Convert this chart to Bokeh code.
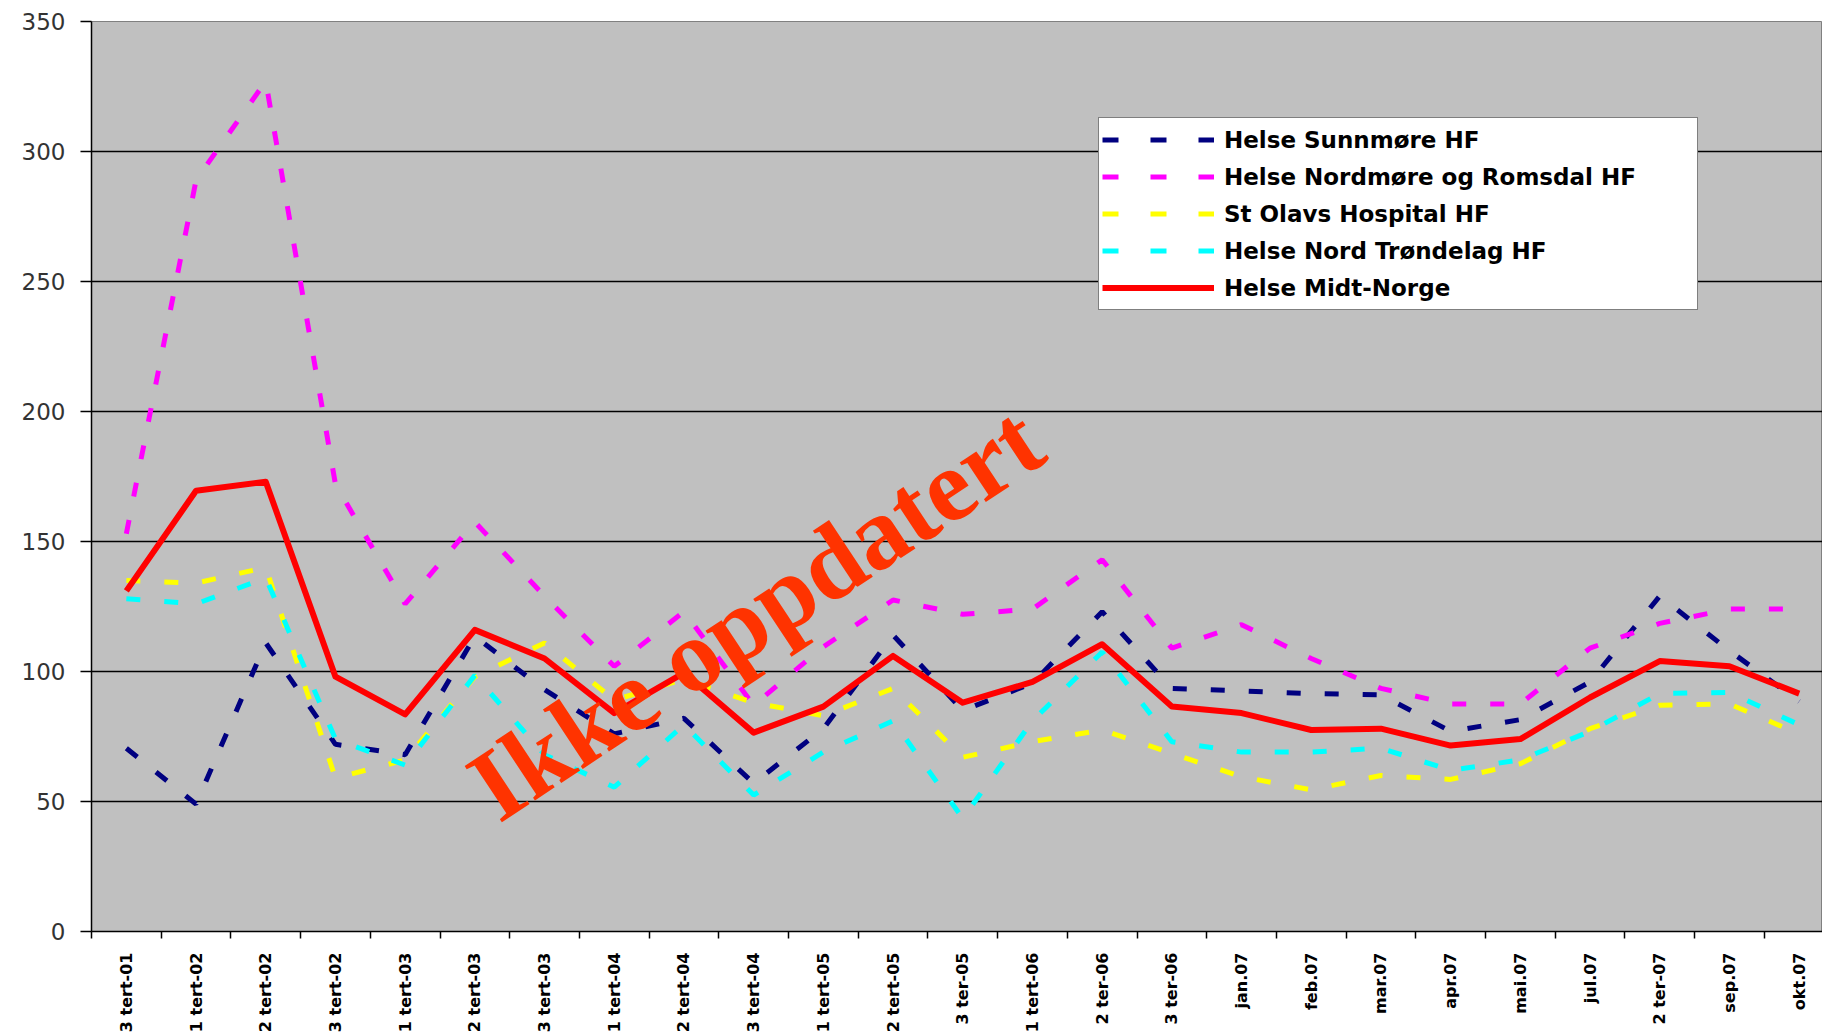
import math
from bokeh.plotting import figure
from bokeh.models import Range1d, FixedTicker, Legend, LegendItem, Label
from bokeh.embed import file_html
from bokeh.resources import INLINE

periods = ["3 tert-01", "1 tert-02", "2 tert-02", "3 tert-02", "1 tert-03", "2 tert-03",
           "3 tert-03", "1 tert-04", "2 tert-04", "3 tert-04", "1 tert-05", "2 tert-05",
           "3 ter-05", "1 tert-06", "2 ter-06", "3 ter-06", "jan.07", "feb.07", "mar.07",
           "apr.07", "mai.07", "jul.07", "2 ter-07", "sep.07", "okt.07"]

sunnmore = [70.5, 49, 111, 72, 68, 113.5, 93, 76, 82, 57, 78, 114, 85, 95.5, 123,
            93.5, 92.5, 91.5, 91, 77, 81.5, 96, 129, 108, 88.5]
nordmore_romsdal = [153, 289, 327, 172, 126, 157.5, 129, 102, 123, 87, 109.5, 127.5, 122,
                    124, 143, 109, 118, 105, 93.5, 87.5, 87.5, 109, 118.5, 124, 124]
st_olavs = [135, 134, 140, 59, 66, 98, 111, 89, 97, 88, 83, 93.5, 67, 73, 77.5, 68.5,
            59.5, 54.5, 60, 58.5, 64.5, 78, 87, 87.5, 76]
nord_trondelag = [128, 126, 136, 74, 64, 98.5, 68, 55.5, 79.5, 52.5, 69, 81, 43.5, 81,
                  107.5, 73, 69, 69, 70.5, 62, 66, 77, 91.5, 92, 79.5]
midt_norge = [131, 169.5, 173, 98, 83.5, 116, 105, 84, 99.5, 76.5, 86.5, 106, 88, 96,
              110.5, 86.5, 84, 77.5, 78, 71.5, 74, 90, 104, 102, 91.5]

y_ticks = [0, 50, 100, 150, 200, 250, 300, 350]

series = [
    ("Helse Sunnmøre HF", sunnmore, "#000080"),
    ("Helse Nordmøre og Romsdal HF", nordmore_romsdal, "#FF00FF"),
    ("St Olavs Hospital HF", st_olavs, "#FFFF00"),
    ("Helse Nord Trøndelag HF", nord_trondelag, "#00FFFF"),
]

xs = list(range(len(periods)))

p = figure(width=1822, height=1035, output_backend="svg", toolbar_location=None,
           x_range=Range1d(-0.5, 24.335), y_range=Range1d(0, 350),
           min_border_left=91, min_border_right=0, min_border_top=21, min_border_bottom=103)
p.background_fill_color = "#C0C0C0"
p.border_fill_color = "white"
p.outline_line_color = "#808080"
p.outline_line_width = 1

p.xgrid.visible = False
p.ygrid.grid_line_color = "black"
p.ygrid.grid_line_width = 1.5

# y axis
p.yaxis.ticker = FixedTicker(ticks=y_ticks)
p.yaxis.axis_line_color = "black"
p.yaxis.axis_line_width = 1.5
p.yaxis.major_tick_out = 11
p.yaxis.major_tick_in = 0
p.yaxis.major_tick_line_color = "black"
p.yaxis.major_tick_line_width = 1.5
p.yaxis.minor_tick_line_color = None
p.yaxis.major_label_standoff = 15
p.yaxis.major_label_text_font = "DejaVu Sans"
p.yaxis.major_label_text_font_size = "23px"
p.yaxis.major_label_text_color = "#333333"

# x axis
p.xaxis.ticker = FixedTicker(ticks=xs, minor_ticks=[i - 0.5 for i in range(len(periods) + 1)])
p.xaxis.major_label_overrides = {i: lab for i, lab in enumerate(periods)}
p.xaxis.axis_line_color = "black"
p.xaxis.axis_line_width = 1.5
p.xaxis.major_tick_out = 0
p.xaxis.major_tick_in = 0
p.xaxis.minor_tick_out = 7
p.xaxis.minor_tick_in = 0
p.xaxis.minor_tick_line_color = "black"
p.xaxis.minor_tick_line_width = 1.5
p.xaxis.major_label_orientation = math.pi / 2
p.xaxis.major_label_standoff = 14
p.xaxis.major_label_text_font = "DejaVu Sans"
p.xaxis.major_label_text_font_style = "bold"
p.xaxis.major_label_text_font_size = "16px"
p.xaxis.major_label_text_color = "black"

items = []
for name, vals, color in series:
    p.line(xs, vals, line_color=color, line_width=5, line_dash="14 24")
    # legend-only swatch (no visible data in the plot)
    swatch = p.line([0], [float("nan")], line_color=color, line_width=5, line_dash="16 32")
    items.append(LegendItem(label=name, renderers=[swatch]))
red = p.line(xs, midt_norge, line_color="#FF0000", line_width=6, line_join="round")
items.append(LegendItem(label="Helse Midt-Norge", renderers=[red]))

legend = Legend(items=items, location=(1007, 621), glyph_width=112, glyph_height=37,
                label_height=37, label_width=470, label_standoff=10, spacing=0,
                padding=3, margin=0, border_line_color="black", border_line_width=1.5,
                background_fill_color="white", background_fill_alpha=1,
                label_text_font="DejaVu Sans", label_text_font_style="bold",
                label_text_font_size="23px", label_text_color="black")
p.add_layout(legend)

watermark = Label(x=5.07, y=52.5, text="Ikke oppdatert", angle=math.radians(33.5),
                  text_font="Liberation Serif", text_font_style="bold",
                  text_font_size="103px", text_color="#FF3300",
                  text_align="left", text_baseline="alphabetic")
p.add_layout(watermark)

open("out.html", "w").write(file_html(p, INLINE))
